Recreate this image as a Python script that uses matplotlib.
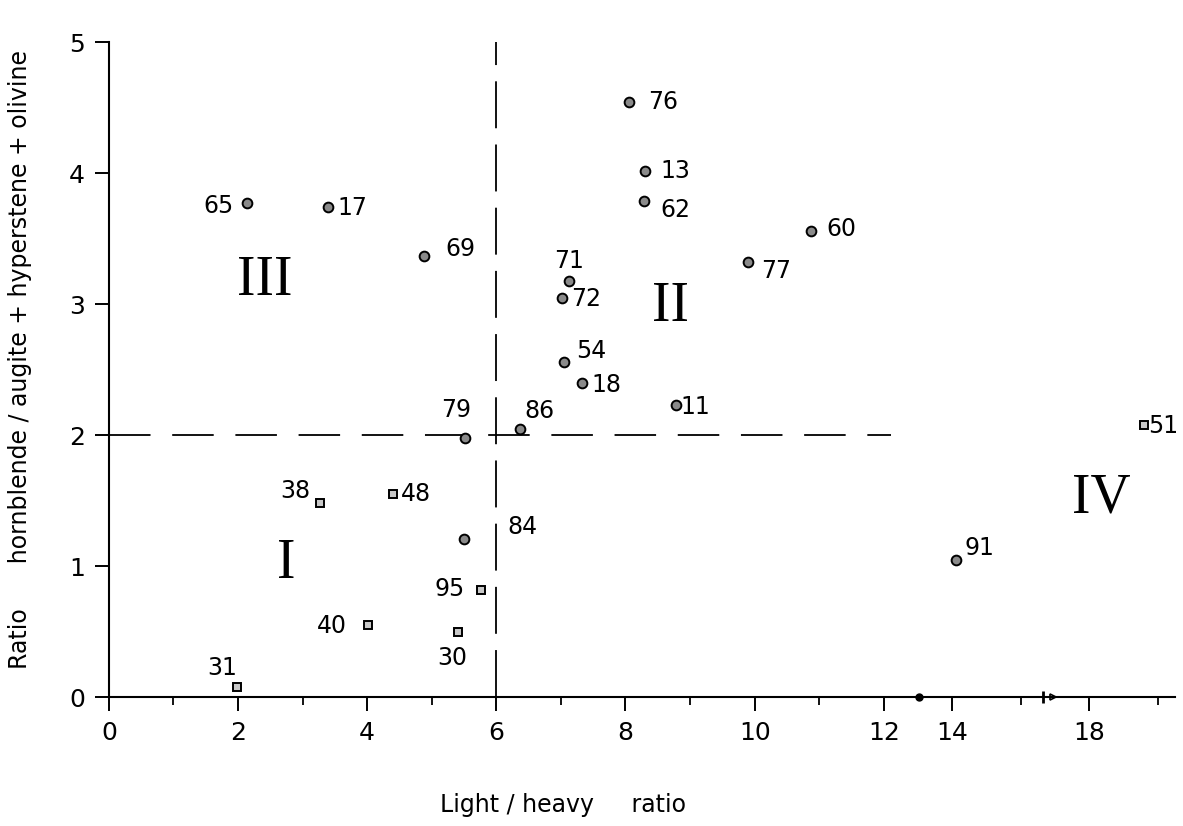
import matplotlib
matplotlib.use('Agg')
import matplotlib.pyplot as plt
import numpy as np

# samples, light/heavy ratio, hornblende ratio
circ_names = ['65', '17', '69', '76', '13', '62', '60', '77', '71', '72',
              '54', '18', '11', '86', '79', '84', '91']
circ_x = [2.14, 3.40, 4.88, 8.05, 8.31, 8.29, 10.88, 9.89, 7.13, 7.02,
          7.05, 7.33, 8.78, 6.37, 5.52, 5.50, 14.1]
circ_y = [3.77, 3.74, 3.37, 4.54, 4.02, 3.79, 3.56, 3.32, 3.18, 3.05,
          2.56, 2.40, 2.23, 2.05, 1.98, 1.21, 1.05]

sq_names = ['38', '48', '95', '40', '30', '31', '51']
sq_x = [3.27, 4.40, 5.77, 4.01, 5.40, 1.98, 19.6]
sq_y = [1.48, 1.55, 0.82, 0.55, 0.50, 0.08, 2.08]

fields = ['I', 'II', 'III', 'IV']
field_x = [2.74, 8.70, 2.42, 18.35]
field_y = [1.02, 2.98, 3.18, 1.52]

x_major = [0, 2, 4, 6, 8, 10, 12, 14, 18]
x_minor = [1, 3, 5, 7, 9, 11, 16, 20]
y_major = [0, 1, 2, 3, 4, 5]

# label offsets in pixels (dx, dy)
offs = {'65': (-29, -3), '17': (24, -1), '69': (36, 7), '76': (34, 0),
        '13': (30, 0), '62': (31, -9), '60': (30, 2), '77': (29, -9),
        '71': (0, 20), '72': (24, -1), '54': (27, 11), '18': (24, -2),
        '11': (19, -2), '86': (19, 18), '79': (-9, 28), '84': (58, 12),
        '91': (24, 12), '38': (-25, 12), '48': (23, 0), '95': (-32, 1),
        '40': (-36, -1), '30': (-5, -26), '31': (-15, 19), '51': (19, -1)}

k = 0.53
def fwd(x):
    x = np.asarray(x, float)
    return np.where(x <= 12, x, 12 + (x - 12) * k)

def inv(u):
    u = np.asarray(u, float)
    return np.where(u <= 12, u, 12 + (u - 12) / k)

fig = plt.figure(figsize=(11.83, 8.26), dpi=100)
ax = fig.add_axes([0.092, 0.156, 0.901, 0.793])
ax.set_xscale('function', functions=(fwd, inv))
ax.set_xlim(0, 20.5)
ax.set_ylim(0, 5)

for s in ['top', 'right']:
    ax.spines[s].set_visible(False)
for s in ['left', 'bottom']:
    ax.spines[s].set_linewidth(1.5)

ax.set_xticks(x_major)
ax.set_xticklabels([str(v) for v in x_major])
ax.set_xticks(x_minor, minor=True)
ax.set_yticks(y_major)
ax.tick_params(axis='both', which='major', length=10, width=1.4, labelsize=18, pad=7)
ax.tick_params(axis='x', which='minor', length=6, width=1.3)

# group boundaries
ax.plot([6, 6], [0, 5], color='black', lw=1.3, dashes=(26, 9))
ax.plot([0, 12.2], [2, 2], color='black', lw=1.3, dashes=(23, 12))

ax.plot(circ_x, circ_y, 'o', ms=7, mfc='#8a8a8a', mec='black', mew=1.4, clip_on=False)
ax.plot(sq_x, sq_y, 's', ms=6, mfc='#c8c8c8', mec='black', mew=1.4, clip_on=False)

for n, x, y in zip(circ_names + sq_names, circ_x + sq_x, circ_y + sq_y):
    dx, dy = offs[n]
    ax.annotate(n, (x, y), xytext=(dx, dy), textcoords='offset pixels',
                ha='center', va='center', fontsize=17, annotation_clip=False)

for t, x, y in zip(fields, field_x, field_y):
    ax.text(x, y, t, ha='center', va='center', fontsize=40,
            family='Liberation Serif')

# axis break marks
ax.plot([13.02], [0], marker='o', ms=5, color='black', clip_on=False)
ax.plot([16.65], [0], marker='|', ms=9, mew=2, color='black', clip_on=False)
ax.plot([16.95], [0], marker='>', ms=5, mfc='white', mec='black', mew=1.2, clip_on=False)

ax.set_xlabel('Light / heavy     ratio', fontsize=17, va='center')
ax.xaxis.set_label_coords(0.426, -0.165)
ax.set_ylabel('Ratio      hornblende / augite + hyperstene + olivine', fontsize=17, va='center')
ax.yaxis.set_label_coords(-0.083, 0.515)

fig.savefig('out.png', dpi=100)
